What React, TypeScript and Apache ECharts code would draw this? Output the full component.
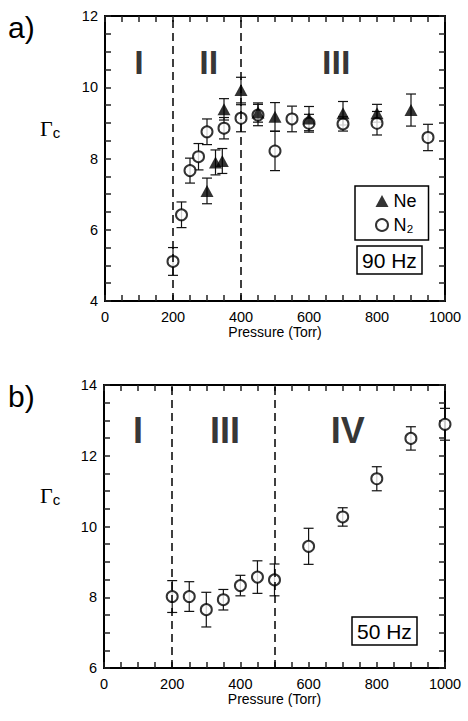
import React, { useEffect, useRef } from "react";
import * as echarts from "echarts";

// Panel a) 90 Hz
const neP = [300, 325, 345, 350, 400, 450, 500, 600, 700, 800, 900];
const neG = [7.09, 7.89, 7.93, 9.38, 9.92, 9.29, 9.17, 9.12, 9.27, 9.27, 9.36];
const neErr = [0.36, 0.35, 0.35, 0.3, 0.36, 0.27, 0.4, 0.34, 0.33, 0.25, 0.45];

const n2P = [200, 225, 250, 275, 300, 350, 400, 450, 500, 550, 600, 700, 800, 950];
const n2G = [5.11, 6.42, 7.66, 8.05, 8.75, 8.85, 9.13, 9.22, 8.21, 9.11, 8.99, 8.97, 8.99, 8.59];
const n2Err = [0.39, 0.36, 0.35, 0.37, 0.36, 0.3, 0.38, 0.3, 0.55, 0.36, 0.25, 0.2, 0.33, 0.37];

// Panel b) 50 Hz
const bP = [200, 250, 300, 350, 400, 450, 500, 600, 700, 800, 900, 1000];
const bG = [8.02, 8.02, 7.65, 7.93, 8.33, 8.57, 8.49, 9.44, 10.27, 11.35, 12.49, 12.89];
const bErr = [0.45, 0.42, 0.49, 0.29, 0.29, 0.46, 0.45, 0.51, 0.26, 0.34, 0.33, 0.45];

const topBoundaries = [200, 400];
const botBoundaries = [200, 500];
const topRegions: [number, number, string][] = [[100, 10.7, "I"], [305, 10.7, "II"], [680, 10.7, "III"]];
const botRegions: [number, number, string][] = [[100, 12.72, "I"], [355, 12.72, "III"], [715, 12.72, "IV"]];

const FONT = "Liberation Sans, Arial, sans-serif";
const TICK = "#222";
const AX_PER_GRID = 3;

function errSeries(p: number[], g: number[], e: number[], gi: number) {
  return {
    type: "custom",
    xAxisIndex: gi * AX_PER_GRID,
    yAxisIndex: gi * AX_PER_GRID,
    silent: true,
    z: 2,
    encode: { x: 0, y: 1 },
    data: p.map((x, i) => [x, g[i], e[i]]),
    renderItem: (params: any, api: any) => {
      const x = api.value(0), y = api.value(1), er = api.value(2);
      const t = api.coord([x, y + er]);
      const b = api.coord([x, y - er]);
      const w = 5;
      const st = () => ({ stroke: "#111", lineWidth: 1.2 });
      return {
        type: "group",
        children: [
          { type: "line", shape: { x1: t[0], y1: t[1], x2: b[0], y2: b[1] }, style: st() },
          { type: "line", shape: { x1: t[0] - w, y1: t[1], x2: t[0] + w, y2: t[1] }, style: st() },
          { type: "line", shape: { x1: b[0] - w, y1: b[1], x2: b[0] + w, y2: b[1] }, style: st() },
        ],
      };
    },
  };
}

function regionSeries(r: [number, number, string][], gi: number, fs: number) {
  return {
    type: "scatter",
    xAxisIndex: gi * AX_PER_GRID,
    yAxisIndex: gi * AX_PER_GRID,
    silent: true,
    symbolSize: 1,
    itemStyle: { color: "rgba(0,0,0,0)" },
    data: r.map((d) => ({ value: [d[0], d[1]], name: d[2] })),
    label: {
      show: true,
      position: "inside",
      formatter: (p: any) => p.name,
      color: "#000",
      fontSize: fs,
      fontWeight: "bold",
      fontFamily: FONT,
      textBorderWidth: 0,
    },
  };
}

function boundaryLine(vals: number[]) {
  return {
    silent: true,
    symbol: ["none", "none"],
    label: { show: false },
    lineStyle: { type: [8, 5], color: "#000", width: 1.5 },
    data: vals.map((v) => ({ xAxis: v })),
  };
}

function base(gi: number, pos: string, min: number, max: number, interval: number) {
  return {
    type: "value",
    gridIndex: gi,
    position: pos,
    min,
    max,
    interval,
    splitLine: { show: false },
    axisLine: { show: true, onZero: false, lineStyle: { color: "#000", width: 2 } },
  };
}

// axis that carries only the numbers (no ticks)
function labelAxis(gi: number, pos: string, min: number, max: number, interval: number, margin: number) {
  return {
    ...base(gi, pos, min, max, interval),
    axisTick: { show: false },
    minorTick: { show: false },
    axisLabel: { show: true, fontSize: 14.5, color: "#000", margin, fontFamily: FONT, formatter: (v: number) => String(v) },
  };
}

// axis that carries only the inward ticks
function tickAxis(gi: number, pos: string, min: number, max: number, interval: number) {
  return {
    ...base(gi, pos, min, max, interval),
    axisLabel: { show: false },
    axisTick: { show: true, inside: true, length: 6, lineStyle: { color: TICK, width: 1.5 } },
    minorTick: { show: true, splitNumber: 4, length: 6, lineStyle: { color: TICK, width: 1.5 } },
  };
}

function xAxes(gi: number) {
  return [
    {
      ...labelAxis(gi, "bottom", 0, 1000, 200, 8),
      name: "Pressure (Torr)",
      nameLocation: "middle",
      nameGap: 24,
      nameTextStyle: { fontSize: 14, color: "#000", fontFamily: FONT },
    },
    tickAxis(gi, "bottom", 0, 1000, 200),
    tickAxis(gi, "top", 0, 1000, 200),
  ];
}

function yAxes(gi: number, min: number, max: number) {
  return [
    labelAxis(gi, "left", min, max, 2, 7),
    tickAxis(gi, "left", min, max, 2),
    tickAxis(gi, "right", min, max, 2),
  ];
}

export default function App() {
  const ref = useRef<HTMLDivElement>(null);
  useEffect(() => {
    if (!ref.current) return;
    const chart = echarts.init(ref.current, undefined, { renderer: "svg" });
    const gammaStyle = () => ({
      text: "{g|Γ}{s|c}",
      rich: {
        g: { fontFamily: "Liberation Serif, Times New Roman, serif", fontSize: 22, fill: "#000" },
        s: { fontFamily: FONT, fontSize: 15, fill: "#000", verticalAlign: "bottom", padding: [9, 0, 0, 0] },
      },
    });
    const boxTitle = (text: string, left: number, top: number) => ({
      text, left, top, padding: [4, 5, 3, 5], borderColor: "#000", borderWidth: 1.5,
      textStyle: { fontSize: 21, fontWeight: "normal", color: "#000", fontFamily: FONT },
    });
    const panelTitle = (text: string, top: number) => ({
      text, left: 3, top, textStyle: { fontSize: 30, fontWeight: "normal", color: "#000", fontFamily: FONT },
    });
    chart.setOption({
      animation: false,
      backgroundColor: "#fff",
      grid: [
        { left: 105, top: 16, width: 340, height: 285 },
        { left: 104, top: 385, width: 341, height: 283 },
      ],
      xAxis: [...xAxes(0), ...xAxes(1)],
      yAxis: [...yAxes(0, 4, 12), ...yAxes(1, 6, 14)],
      title: [panelTitle("a)", 7), panelTitle("b)", 376), boxTitle("90 Hz", 357, 246), boxTitle("50 Hz", 352, 617)],
      legend: {
        data: ["Ne", "N₂"],
        orient: "vertical",
        left: 355,
        top: 186,
        padding: [6, 12, 6, 20],
        itemGap: 6,
        itemWidth: 13,
        itemHeight: 12,
        borderColor: "#000",
        borderWidth: 1.5,
        selectedMode: false,
        textStyle: { fontSize: 18, color: "#000", fontFamily: FONT },
      },
      graphic: [
        { type: "text", left: 40, top: 117, style: gammaStyle() },
        { type: "text", left: 40, top: 484, style: gammaStyle() },
      ],
      series: [
        errSeries(neP, neG, neErr, 0),
        errSeries(n2P, n2G, n2Err, 0),
        errSeries(bP, bG, bErr, 1),
        {
          name: "N₂",
          type: "scatter",
          xAxisIndex: 0,
          yAxisIndex: 0,
          symbol: "emptyCircle",
          symbolSize: 11,
          z: 3,
          itemStyle: { color: "#000", borderWidth: 1.2 },
          data: n2P.map((x, i) => [x, n2G[i]]),
        },
        {
          name: "Ne",
          type: "scatter",
          xAxisIndex: 0,
          yAxisIndex: 0,
          symbol: "triangle",
          symbolSize: [13, 12],
          z: 4,
          itemStyle: { color: "#000" },
          data: neP.map((x, i) => [x, neG[i]]),
          markLine: boundaryLine(topBoundaries),
        },
        {
          name: "50 Hz N₂",
          type: "scatter",
          xAxisIndex: AX_PER_GRID,
          yAxisIndex: AX_PER_GRID,
          symbol: "emptyCircle",
          symbolSize: 11,
          z: 3,
          itemStyle: { color: "#000", borderWidth: 1.2 },
          data: bP.map((x, i) => [x, bG[i]]),
          markLine: boundaryLine(botBoundaries),
        },
        regionSeries(topRegions, 0, 34),
        regionSeries(botRegions, 1, 36),
      ],
    });
    return () => chart.dispose();
  }, []);
  return <div ref={ref} style={{ position: "fixed", left: 0, top: 0, width: 468, height: 721 }} />;
}
